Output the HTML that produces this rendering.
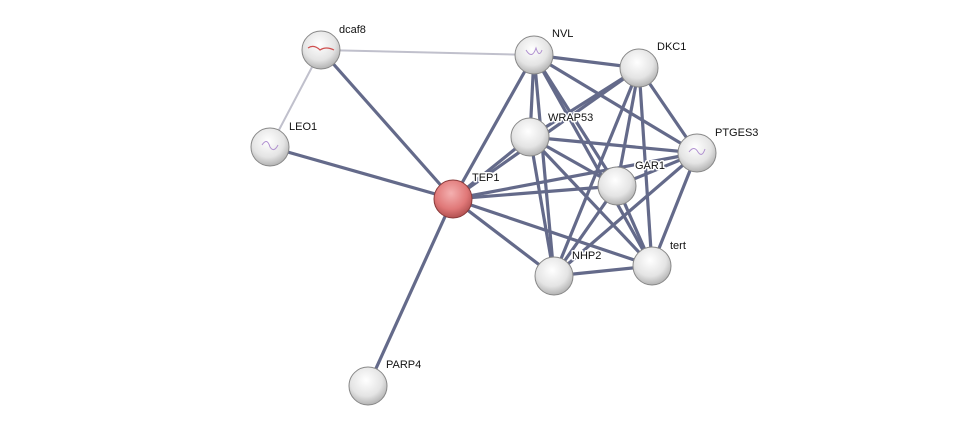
<!DOCTYPE html>
<html><head><style>
html,body{margin:0;padding:0;background:#fff;}
svg{display:block;}
text{font-family:"Liberation Sans",sans-serif;font-size:11px;fill:#111;stroke:#fff;stroke-width:3px;paint-order:stroke;stroke-linejoin:round;}
</style></head><body>
<svg width="975" height="431" viewBox="0 0 975 431">
<defs>
<radialGradient id="g" cx="0.45" cy="0.35" r="0.7">
<stop offset="0" stop-color="#ffffff"/><stop offset="0.6" stop-color="#e4e4e4"/><stop offset="1" stop-color="#a8a8a8"/>
</radialGradient>
<radialGradient id="r" cx="0.45" cy="0.35" r="0.7">
<stop offset="0" stop-color="#f4b0b0"/><stop offset="0.6" stop-color="#e07878"/><stop offset="1" stop-color="#a84848"/>
</radialGradient>
</defs>
<g stroke="#c0c0cc" stroke-width="2">
<line x1="321" y1="50" x2="534" y2="55"/>
<line x1="321" y1="50" x2="270" y2="147"/>
</g>
<g stroke="#5c6384" stroke-width="3.2" opacity="0.95">
<line x1="321" y1="50" x2="453" y2="199"/>
<line x1="270" y1="147" x2="453" y2="199"/>
<line x1="453" y1="199" x2="368" y2="386"/>
<line x1="453" y1="199" x2="534" y2="55"/>
<line x1="453" y1="199" x2="639" y2="68"/>
<line x1="453" y1="199" x2="530" y2="137"/>
<line x1="453" y1="199" x2="617" y2="186"/>
<line x1="453" y1="199" x2="697" y2="153"/>
<line x1="453" y1="199" x2="554" y2="276"/>
<line x1="453" y1="199" x2="652" y2="266"/>
<line x1="534" y1="55" x2="639" y2="68"/>
<line x1="534" y1="55" x2="530" y2="137"/>
<line x1="534" y1="55" x2="697" y2="153"/>
<line x1="534" y1="55" x2="617" y2="186"/>
<line x1="534" y1="55" x2="554" y2="276"/>
<line x1="534" y1="55" x2="652" y2="266"/>
<line x1="639" y1="68" x2="530" y2="137"/>
<line x1="639" y1="68" x2="697" y2="153"/>
<line x1="639" y1="68" x2="617" y2="186"/>
<line x1="639" y1="68" x2="554" y2="276"/>
<line x1="639" y1="68" x2="652" y2="266"/>
<line x1="530" y1="137" x2="697" y2="153"/>
<line x1="530" y1="137" x2="617" y2="186"/>
<line x1="530" y1="137" x2="554" y2="276"/>
<line x1="530" y1="137" x2="652" y2="266"/>
<line x1="697" y1="153" x2="617" y2="186"/>
<line x1="697" y1="153" x2="554" y2="276"/>
<line x1="697" y1="153" x2="652" y2="266"/>
<line x1="617" y1="186" x2="554" y2="276"/>
<line x1="617" y1="186" x2="652" y2="266"/>
<line x1="554" y1="276" x2="652" y2="266"/>
</g>
<g stroke="#888" stroke-width="1">
<circle cx="321" cy="50" r="19" fill="url(#g)"/>
<circle cx="270" cy="147" r="19" fill="url(#g)"/>
<circle cx="368" cy="386" r="19" fill="url(#g)"/>
<circle cx="534" cy="55" r="19" fill="url(#g)"/>
<circle cx="639" cy="68" r="19" fill="url(#g)"/>
<circle cx="530" cy="137" r="19" fill="url(#g)"/>
<circle cx="697" cy="153" r="19" fill="url(#g)"/>
<circle cx="617" cy="186" r="19" fill="url(#g)"/>
<circle cx="554" cy="276" r="19" fill="url(#g)"/>
<circle cx="652" cy="266" r="19" fill="url(#g)"/>
<circle cx="453" cy="199" r="19" fill="url(#r)" stroke="#8a3a3a"/>
</g>
<g fill="none" stroke="#b090d0" stroke-width="1">
<path d="M262 145 q5 -8 8 2 q4 6 8 -2"/>
<path d="M526 50 q6 10 10 -2 q3 10 6 2"/>
<path d="M689 152 q5 -7 9 0 q4 6 7 -3"/>
</g>
<path d="M308 48 q6 -4 12 2 q6 -4 14 0" fill="none" stroke="#d05050" stroke-width="1.2"/>
<text x="339" y="33">dcaf8</text>
<text x="289" y="130">LEO1</text>
<text x="472" y="181">TEP1</text>
<text x="386" y="368">PARP4</text>
<text x="552" y="37">NVL</text>
<text x="657" y="50">DKC1</text>
<text x="548" y="121">WRAP53</text>
<text x="715" y="136">PTGES3</text>
<text x="635" y="169">GAR1</text>
<text x="572" y="259">NHP2</text>
<text x="670" y="249">tert</text>
</svg>
</body></html>
